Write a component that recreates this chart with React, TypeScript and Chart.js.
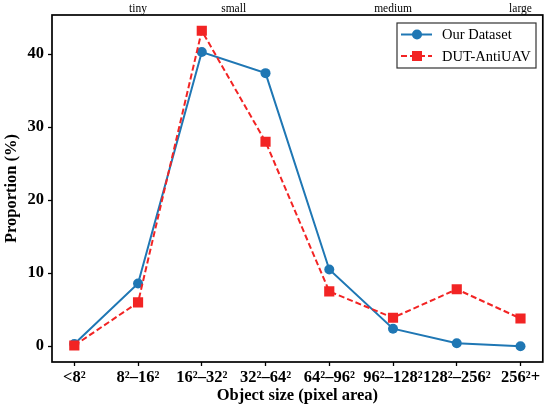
import { useEffect, useRef } from 'react';
import { Chart, registerables } from 'chart.js';

Chart.register(...registerables);

const sizeBins = ['<8²', '8²–16²', '16²–32²', '32²–64²', '64²–96²', '96²–128²', '128²–256²', '256²+'];
const ourDataset = [0.3, 8.6, 40.3, 37.4, 10.5, 2.4, 0.4, 0.0];
const dutAntiUav = [0.1, 6.0, 43.2, 28.0, 7.5, 3.9, 7.8, 3.8];
const yTicks = [0, 10, 20, 30, 40];
const groupLabels = ['tiny', 'small', 'medium', 'large'];
const groupPositions = [1, 2.5, 5, 7];

const BLUE = '#1f77b4';
const RED = '#f22424';
const SERIF = '"Liberation Serif", "Times New Roman", serif';

const frameAndLegend = {
  id: 'frameAndLegend',
  afterDraw(chart: any) {
    const { ctx, chartArea } = chart;
    const xs = chart.scales.x;
    ctx.save();
    ctx.strokeStyle = '#000';
    ctx.lineWidth = 1.7;
    ctx.strokeRect(chartArea.left, chartArea.top, chartArea.right - chartArea.left, chartArea.bottom - chartArea.top);

    // size-group labels along the top edge
    ctx.fillStyle = '#000';
    ctx.font = `11.5px ${SERIF}`;
    ctx.textAlign = 'center';
    ctx.textBaseline = 'middle';
    groupLabels.forEach((lab, i) => {
      ctx.fillText(lab, xs.getPixelForValue(groupPositions[i]), 8.5);
    });

    // legend box
    const bx = 397, by = 23, bw = 139, bh = 45;
    ctx.fillStyle = '#fff';
    ctx.fillRect(bx, by, bw, bh);
    ctx.strokeStyle = '#333';
    ctx.lineWidth = 1.2;
    ctx.strokeRect(bx, by, bw, bh);

    const items = [
      { label: 'Our Dataset', color: BLUE, dash: [] as number[], shape: 'circle' },
      { label: 'DUT-AntiUAV', color: RED, dash: [6, 3], shape: 'rect' },
    ];
    items.forEach((it, i) => {
      const y = by + 11.5 + i * 21.5;
      ctx.strokeStyle = it.color;
      ctx.fillStyle = it.color;
      ctx.lineWidth = 2;
      ctx.setLineDash(it.dash);
      ctx.beginPath();
      ctx.moveTo(bx + 4, y);
      ctx.lineTo(bx + 35, y);
      ctx.stroke();
      ctx.setLineDash([]);
      if (it.shape === 'circle') {
        ctx.beginPath();
        ctx.arc(bx + 20, y, 5, 0, Math.PI * 2);
        ctx.fill();
      } else {
        ctx.fillRect(bx + 15, y - 5, 10, 10);
      }
      ctx.fillStyle = '#000';
      ctx.font = `14.5px ${SERIF}`;
      ctx.textBaseline = 'middle';
      ctx.textAlign = 'left';
      ctx.fillText(it.label, bx + 45, y + 1);
    });
    ctx.restore();
  },
};

export default function App() {
  const ref = useRef<HTMLCanvasElement>(null);

  useEffect(() => {
    if (!ref.current) return;
    document.body.style.margin = '0';

    const chart = new Chart(ref.current, {
      type: 'line',
      data: {
        datasets: [
          {
            label: 'Our Dataset',
            data: ourDataset.map((v, i) => ({ x: i, y: v })),
            borderColor: BLUE,
            backgroundColor: BLUE,
            borderWidth: 2,
            pointStyle: 'circle',
            pointRadius: 5,
            pointBorderWidth: 0,
            tension: 0,
            order: 1,
          },
          {
            label: 'DUT-AntiUAV',
            data: dutAntiUav.map((v, i) => ({ x: i, y: v })),
            borderColor: RED,
            backgroundColor: RED,
            borderWidth: 2,
            borderDash: [6, 3],
            pointStyle: 'rect',
            pointRadius: 7.2,
            pointBorderWidth: 0,
            tension: 0,
            order: 0,
          },
        ],
      },
      options: {
        responsive: false,
        animation: false,
        layout: { padding: { left: 0, right: 7, top: 15, bottom: 0 } },
        plugins: {
          legend: { display: false },
          tooltip: { enabled: false },
        },
        scales: {
          x: {
            type: 'linear',
            position: 'bottom',
            min: -0.35,
            max: 7.35,
            afterBuildTicks: (s: any) => {
              s.ticks = sizeBins.map((_, i) => ({ value: i }));
            },
            afterFit: (s: any) => {
              s.height = 48;
            },
            grid: { drawOnChartArea: false, drawTicks: true, tickLength: 4, color: '#000', tickWidth: 1.3 },
            border: { display: false },
            ticks: {
              autoSkip: false,
              maxRotation: 0,
              padding: 2,
              color: '#000',
              font: { family: SERIF, size: 16.5, weight: 'bold' },
              callback: (v: any) => sizeBins[v] ?? '',
            },
            title: {
              display: true,
              text: 'Object size (pixel area)',
              color: '#000',
              font: { family: SERIF, size: 16.5, weight: 'bold' },
              padding: { top: 0, bottom: 4 },
            },
          },
          y: {
            min: -2.16,
            max: 45.36,
            afterBuildTicks: (s: any) => {
              s.ticks = yTicks.map((v) => ({ value: v }));
            },
            afterFit: (s: any) => {
              s.width = 52;
            },
            grid: { drawOnChartArea: false, drawTicks: true, tickLength: 4, color: '#000', tickWidth: 1.3 },
            border: { display: false },
            ticks: {
              padding: 4,
              color: '#000',
              font: { family: SERIF, size: 16.5, weight: 'bold' },
            },
            title: {
              display: true,
              text: 'Proportion (%)',
              color: '#000',
              font: { family: SERIF, size: 16.5, weight: 'bold' },
              padding: { top: 2, bottom: 0 },
            },
          },
        },
      },
      plugins: [frameAndLegend],
    } as any);

    return () => {
      chart.destroy();
    };
  }, []);

  return (
    <div style={{ width: 550, height: 410 }}>
      <canvas ref={ref} width={550} height={410} />
    </div>
  );
}
